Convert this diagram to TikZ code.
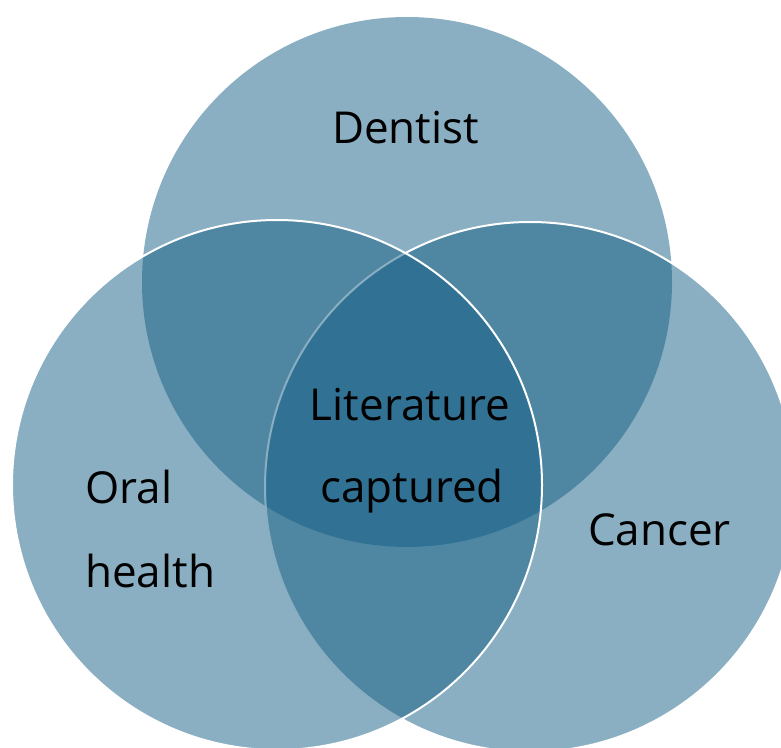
\documentclass[tikz,border=0pt]{standalone}
\usepackage{fontspec}
\setmainfont{Open Sans}
\definecolor{venn}{RGB}{21,95,133}
\begin{document}
\begin{tikzpicture}[x=1pt,y=-1pt,
  vcirc/.style={circle, minimum size=530pt, inner sep=0pt, outer sep=0pt, fill=venn, fill opacity=0.5},
  vedge/.style={draw=white, line width=2pt},
  lbl/.style={font=\fontsize{44}{83}\selectfont, text=black, inner sep=0pt}]
\useasboundingbox (0,0) rectangle (781,747);
\clip (0,0) rectangle (781,747);
\node[vcirc] (dent) at (407,282) {};
\node[vcirc, vedge] (canc) at (530,487) {};
\node[vcirc, vedge] (oral) at (277,485) {};
\node[lbl, anchor=base] (tdent) at (405.5,143) {Dentist};
\node[lbl, anchor=base] (tlit) at (410,420) {Literature};
\node[lbl, anchor=base] (tcap) at (412,502) {captured};
\node[lbl, anchor=base west] (tor) at (85,503) {Oral};
\node[lbl, anchor=base west] (thl) at (85,587) {health};
\node[lbl, anchor=base] (tcan) at (659.5,545) {Cancer};
\end{tikzpicture}
\end{document}
